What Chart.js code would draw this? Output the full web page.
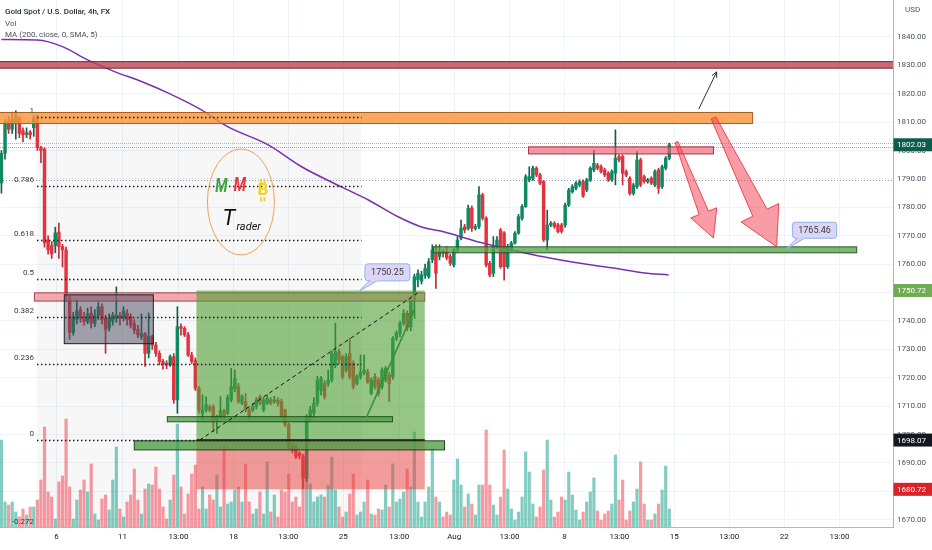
<!DOCTYPE html>
<html>
<head>
<meta charset="utf-8">
<title>Gold Spot / U.S. Dollar, 4h, FX</title>
<script src="https://cdn.jsdelivr.net/npm/chart.js@4.4.1/dist/chart.umd.min.js"></script>
<style>
  html, body { margin: 0; padding: 0; background: #ffffff; }
  canvas { display: block; }
</style>
</head>
<body>
<canvas id="goldChart" width="932" height="550"></canvas>
<script>
// --- 1. DATA (4h candles) ---
const opens = [
  1788.6,1799.0,1810.5,1807.5,1809.5,1811.5,1807.0,1805.7,1806.5,1808.0,
  1811.3,1801.0,1800.5,1768.5,1766.5,1766.5,1771.3,1766.2,1765.0,1748.5,
  1736.0,1740.5,1743.9,1741.5,1739.8,1742.7,1739.2,1742.0,1745.0,1741.0,
  1737.5,1740.0,1741.0,1742.0,1741.0,1742.7,1741.5,1739.0,1737.0,1734.5,
  1735.5,1728.6,1734.5,1731.5,1728.6,1725.7,1725.1,1724.5,1727.4,1712.2,
  1738.0,1737.4,1735.1,1728.0,1726.0,1716.3,1707.5,1708.7,1709.8,1709.8,
  1705.1,1706.3,1708.5,1707.5,1712.2,1716.0,1716.9,1711.0,1711.6,1708.7,
  1708.7,1709.8,1713.4,1708.7,1711.0,1712.2,1711.6,1712.2,1711.6,1708.7,
  1703.5,1696.0,1695.8,1693.5,1692.2,1684.6,1706.3,1707.5,1711.0,1715.5,
  1718.0,1718.0,1719.2,1724.5,1729.2,1727.4,1722.7,1728.6,1725.2,1718.0,
  1720.4,1721.8,1722.0,1714.5,1720.4,1719.2,1716.9,1719.2,1721.0,1720.4,
  1733.9,1735.5,1739.2,1742.7,1738.0,1747.0,
  1754.5,1754.0,1756.0,1755.6,1761.5,1763.8,1762.7,1764.4,1764.4,1762.7,
  1759.7,1765.0,1769.1,1773.2,1772.6,1779.7,1772.6,1773.2,1784.4,1776.2,
  1760.3,1756.8,1766.2,1772.0,1771.0,1759.1,1765.0,1767.4,1770.9,1776.2,
  1780.3,1789.7,1790.2,1793.8,1791.4,1789.1,1768.5,1773.8,1774.4,1773.8,
  1773.8,1773.8,1780.8,1785.5,1786.7,1787.9,1789.1,1786.1,1789.7,1793.2,
  1794.9,1794.3,1793.2,1792.0,1789.7,1792.0,1797.9,1797.9,1792.6,1790.2,
  1784.9,1787.3,1796.7,1790.8,1789.1,1790.2,1787.9,1793.2,1787.3,1793.8,
  1797.3
];
const highs = [
  1800.0,1811.0,1812.0,1813.5,1814.0,1812.0,1808.0,1808.0,1807.0,1812.5,
  1812.5,1801.5,1801.0,1770.0,1768.0,1773.0,1774.5,1767.0,1766.0,1749.0,
  1743.0,1747.4,1745.0,1743.0,1744.5,1745.0,1744.0,1746.5,1746.0,1742.0,
  1742.5,1743.0,1752.0,1743.0,1745.0,1744.0,1742.5,1740.5,1738.5,1742.5,
  1736.0,1742.8,1735.0,1732.5,1729.5,1726.5,1726.0,1728.0,1728.5,1745.0,
  1739.0,1738.0,1736.0,1729.0,1727.0,1717.0,1714.0,1713.4,1710.5,1710.5,
  1706.8,1713.4,1709.0,1714.0,1723.3,1722.7,1718.0,1714.0,1714.5,1709.5,
  1711.0,1713.0,1714.0,1713.0,1714.0,1713.0,1713.5,1713.0,1712.5,1709.0,
  1704.0,1697.0,1696.5,1694.0,1693.0,1707.0,1710.0,1713.0,1720.5,1720.5,
  1719.0,1722.7,1729.5,1739.2,1730.0,1728.0,1728.5,1733.9,1726.0,1721.0,
  1728.0,1728.0,1723.0,1720.0,1721.5,1720.0,1723.5,1724.0,1722.0,1734.5,
  1736.5,1740.0,1744.0,1743.5,1748.5,1756.5,
  1758.0,1757.5,1760.0,1762.0,1766.8,1766.8,1766.8,1765.0,1766.2,1763.5,
  1765.5,1769.7,1775.5,1774.0,1780.8,1780.5,1774.0,1787.3,1785.0,1776.7,
  1761.0,1769.7,1769.7,1772.6,1771.5,1767.0,1768.0,1771.5,1777.5,1781.0,
  1791.5,1794.3,1794.5,1794.3,1792.0,1789.5,1779.0,1775.0,1775.0,1774.4,
  1774.4,1781.5,1786.7,1788.0,1789.1,1789.7,1789.7,1790.2,1794.3,1800.2,
  1795.5,1795.0,1793.8,1792.6,1793.2,1807.3,1798.5,1798.5,1793.2,1790.8,
  1788.5,1799.6,1797.3,1791.4,1790.2,1790.8,1793.2,1793.8,1794.9,1797.9,
  1802.6
];
const lows = [
  1785.0,1797.0,1806.0,1806.0,1804.0,1804.5,1803.0,1804.5,1804.0,1805.0,
  1800.0,1795.7,1766.0,1763.5,1762.0,1764.0,1762.0,1759.0,1747.0,1733.5,
  1735.0,1739.0,1739.5,1738.5,1739.0,1737.5,1738.0,1740.5,1739.0,1728.6,
  1736.5,1738.5,1739.5,1738.5,1740.0,1738.5,1737.5,1735.5,1734.0,1733.5,
  1724.0,1727.0,1730.0,1727.5,1724.5,1723.0,1723.2,1724.0,1711.0,1707.5,
  1735.0,1734.5,1727.5,1725.0,1715.5,1707.5,1705.5,1708.0,1708.0,1701.0,
  1700.4,1705.5,1705.5,1707.0,1711.5,1715.0,1711.0,1710.5,1708.0,1705.5,
  1708.0,1709.0,1710.5,1708.0,1710.5,1710.5,1711.0,1710.0,1705.5,1702.8,
  1695.0,1693.5,1691.5,1691.5,1681.0,1683.5,1704.5,1706.0,1710.0,1714.0,
  1712.5,1717.0,1718.5,1723.5,1725.0,1719.5,1722.0,1719.5,1716.0,1717.5,
  1719.5,1721.0,1718.0,1714.0,1716.0,1713.5,1716.0,1718.5,1711.6,1719.5,
  1733.0,1734.5,1738.5,1736.5,1736.5,1743.0,
  1752.0,1753.0,1755.0,1755.0,1760.5,1751.5,1761.5,1762.5,1761.5,1759.5,
  1759.0,1764.0,1768.5,1771.0,1772.0,1771.5,1772.0,1772.5,1775.5,1759.0,
  1755.5,1755.6,1765.5,1758.5,1754.4,1758.5,1764.5,1767.0,1770.5,1775.5,
  1780.0,1789.0,1789.5,1790.8,1788.0,1768.0,1765.0,1773.2,1772.6,1771.0,
  1770.9,1773.0,1780.3,1785.0,1786.1,1787.3,1783.5,1785.5,1789.1,1792.6,
  1793.2,1792.0,1790.8,1789.1,1789.1,1787.9,1796.0,1787.9,1790.8,1784.3,
  1784.3,1786.7,1787.3,1788.5,1788.5,1788.0,1787.3,1784.9,1786.7,1793.2,
  1796.7
];
const closes = [
  1799.0,1809.7,1807.5,1811.0,1812.0,1806.0,1805.5,1806.2,1805.5,1811.5,
  1801.0,1800.0,1767.5,1765.0,1763.6,1771.0,1766.2,1765.0,1748.5,1736.0,
  1741.4,1743.5,1741.0,1739.8,1742.5,1739.2,1742.0,1745.0,1740.4,1737.0,
  1741.0,1742.2,1742.0,1741.0,1743.5,1740.4,1738.5,1736.8,1735.1,1735.5,
  1728.6,1734.5,1731.5,1728.6,1725.7,1724.8,1724.5,1727.4,1712.2,1738.0,
  1737.4,1735.1,1728.0,1725.7,1716.3,1708.7,1708.7,1710.5,1708.7,1705.1,
  1706.3,1708.5,1706.3,1713.0,1716.9,1719.8,1711.6,1713.4,1708.7,1706.3,
  1709.8,1712.2,1711.0,1712.2,1712.8,1711.0,1712.2,1711.0,1706.3,1703.5,
  1695.8,1694.5,1692.2,1692.5,1684.6,1706.3,1708.7,1711.0,1719.2,1719.8,
  1713.4,1719.2,1728.6,1729.2,1726.3,1720.4,1727.4,1720.4,1716.9,1720.4,
  1722.0,1722.7,1718.5,1719.2,1716.9,1714.5,1722.7,1723.3,1718.0,1733.9,
  1735.7,1739.2,1742.7,1737.5,1747.4,1755.6,
  1756.8,1756.2,1758.5,1760.9,1765.0,1756.8,1764.4,1763.8,1762.2,1760.3,
  1765.0,1768.5,1772.6,1772.0,1779.7,1772.6,1773.2,1784.4,1776.2,1759.7,
  1756.2,1766.2,1768.5,1759.1,1759.1,1766.2,1767.4,1770.9,1776.7,1780.3,
  1790.8,1790.8,1793.8,1791.4,1788.5,1768.5,1773.8,1774.4,1773.2,1771.5,
  1771.5,1780.8,1786.1,1787.3,1788.5,1789.1,1784.0,1789.7,1793.8,1795.5,
  1793.8,1792.6,1791.4,1789.7,1792.6,1797.3,1796.7,1792.0,1791.4,1784.9,
  1787.9,1796.7,1787.9,1789.1,1789.7,1788.5,1792.6,1786.7,1794.3,1797.3,
  1802.03
];
const volumes = [
  87,25,22,25,15,10,18,12,20,20,
  27,47,100,35,30,8,45,51,108,40,
  8,27,37,47,35,63,13,7,28,32,
  17,47,80,18,10,25,32,58,27,13,
  38,43,42,60,38,20,8,27,52,103,
  40,13,33,53,62,18,40,18,32,27,
  52,20,82,23,25,37,40,25,63,25,
  13,18,35,13,65,15,32,10,37,35,
  53,25,30,20,73,107,43,25,30,32,
  30,42,70,37,20,10,15,33,53,12,
  15,25,47,13,12,18,17,42,20,63,
  25,28,35,58,40,95,
  25,10,25,40,78,30,25,10,15,12,
  47,68,42,20,33,23,12,42,42,97,
  42,22,12,30,77,38,18,7,15,30,
  75,55,23,10,20,57,87,27,10,15,
  30,27,55,32,17,7,15,25,35,49,
  16,7,13,16,23,72,27,47,7,16,
  25,38,65,23,7,7,13,23,37,61,
  18
];

// MA (200, close) sampled at candle positions
const maIdx = [0, 10, 17, 24, 31.5, 39, 46.5, 55.7, 63, 74.3, 83.6, 94.7, 102.2, 110.6, 117, 123.4, 132.9, 142.1, 151.3, 160.7, 169.9, 179.1, 185.8];
const maVal = [1839.1, 1838.9, 1836.6, 1831.9, 1827.8, 1824.3, 1820.2, 1814.3, 1808.4, 1802.0, 1794.3, 1787.2, 1782.6, 1776.6, 1773.1, 1771.3, 1767.8, 1765.0, 1762.5, 1760.4, 1758.7, 1756.9, 1756.2];

// time axis
const timeTickIdx = [15.3, 33.7, 49.3, 64.6, 79.9, 95.2, 110.8, 126.1, 141.5, 156.8, 172.1, 187.4, 202.7, 218.0, 233.4];
const timeTickText = ['6', '11', '13:00', '18', '13:00', '25', '13:00', 'Aug', '13:00', '8', '13:00', '15', '13:00', '22', '13:00'];

// price axis
const priceTicks = [1670, 1680, 1690, 1700, 1710, 1720, 1730, 1740, 1750, 1760, 1770, 1780, 1790, 1800, 1810, 1820, 1830, 1840];

// fibonacci retracement and long position tool
const fibLevels = [1, 0.786, 0.618, 0.5, 0.382, 0.236, 0, -0.272];
const fibHigh = 1811.8;
const fibLow = 1698.07;
const entryPrice = 1698.07;
const targetPrice = 1750.72;
const stopPrice = 1680.72;
const lastPrice = 1802.03;

// --- 2. DRAWING OBJECTS (in candle index / price units) ---
const fibSpan = { from: 9.9, to: 100.3 };
const positionSpan = { from: 54.3, to: 117.9 };

const zonesUnder = [
  { from: -5, to: 260, top: 1831.3, bottom: 1829.0, fill: 'rgba(186,70,82,0.8)', line: '#7a2430' },
  { from: -5, to: 209.2, top: 1813.4, bottom: 1809.5, fill: 'rgba(247,150,60,0.82)', line: '#a35f1f' },
  { from: 9.2, to: 117.9, top: 1749.9, bottom: 1747.0, fill: 'rgba(241,126,134,0.65)', line: 'rgba(150,40,50,0.85)' },
  { from: 17.5, to: 42.3, top: 1749.2, bottom: 1732.0, fill: 'rgba(78,78,98,0.52)', line: '#20202a' },
  { from: 146.8, to: 198.3, top: 1801.3, bottom: 1798.8, fill: 'rgba(240,96,112,0.65)', line: 'rgba(160,36,52,0.9)' },
  { from: 120.3, to: 238.2, top: 1766.1, bottom: 1764.0, fill: 'rgba(86,164,76,0.78)', line: 'rgba(28,78,28,0.9)' }
];
const zonesOver = [
  { from: 46.2, to: 108.9, top: 1706.3, bottom: 1704.5, fill: 'rgba(76,158,66,0.75)', line: 'rgba(24,70,24,0.9)' },
  { from: 37.0, to: 123.4, top: 1697.8, bottom: 1694.6, fill: 'rgba(76,158,66,0.78)', line: 'rgba(24,60,24,0.95)' }
];
const priceLines = [
  { price: 1789.6, color: '#9598a1', dash: [1, 2] },
  { price: 1802.6, color: '#f48fb1', dash: [1, 1] },
  { price: 1801.4, color: '#b39ddb', dash: [1, 1] }
];
const fatArrows = [
  { x0: 188.0, p0: 1803.0, x1: 198.3, p1: 1769.2, w0: 1.5, w1: 5, wh: 14, hl: 27 },
  { x0: 198.3, p0: 1811.5, x1: 215.9, p1: 1766.1, w0: 2.5, w1: 8, wh: 21, hl: 38 }
];
const callouts = [
  { idx: 99.4, price: 1750.25, dx: 6.6, dy: -28, w: 45, h: 17 },
  { idx: 218.7, price: 1765.46, dx: 5.7, dy: -26.4, w: 44.3, h: 16 }
];
const axisBadges = [
  { price: lastPrice, bg: '#0c5e4b' },
  { price: targetPrice, bg: '#6fac54' },
  { price: entryPrice, bg: '#131722' },
  { price: stopPrice, bg: '#d9232b' }
];

// --- 3. HELPERS ---
const UP = '#0e8a62';
const DOWN = '#e5323f';
const UP_WICK = '#11604c';
const DOWN_WICK = '#c02c38';
const isUp = i => closes[i] >= opens[i];
const fibPrice = l => fibLow + l * (fibHigh - fibLow);
const FONT = 'Roboto, "Liberation Sans", Arial, sans-serif';

function clipArea(ctx, a) {
  ctx.beginPath();
  ctx.rect(a.left, a.top, a.right - a.left, a.bottom - a.top);
  ctx.clip();
}

function noPadding(s) {
  s.paddingTop = 0;
  s.paddingBottom = 0;
  s.paddingLeft = 0;
  s.paddingRight = 0;
}

function drawZone(ctx, x, y, z) {
  const xa = x.getPixelForValue(z.from), xb = x.getPixelForValue(z.to);
  const ya = y.getPixelForValue(z.top), yb = y.getPixelForValue(z.bottom);
  ctx.fillStyle = z.fill;
  ctx.fillRect(xa, ya, xb - xa, yb - ya);
  ctx.strokeStyle = z.line;
  ctx.lineWidth = 1;
  ctx.strokeRect(xa, ya, xb - xa, yb - ya);
}

function lineArrow(ctx, xa, ya, xb, yb, head) {
  const ang = Math.atan2(yb - ya, xb - xa);
  ctx.beginPath();
  ctx.moveTo(xa, ya);
  ctx.lineTo(xb, yb);
  ctx.moveTo(xb - head * Math.cos(ang - 0.45), yb - head * Math.sin(ang - 0.45));
  ctx.lineTo(xb, yb);
  ctx.lineTo(xb - head * Math.cos(ang + 0.45), yb - head * Math.sin(ang + 0.45));
  ctx.stroke();
}

function fatArrow(ctx, x0, y0, x1, y1, w0, w1, wh, hl) {
  const L = Math.hypot(x1 - x0, y1 - y0);
  const ux = (x1 - x0) / L, uy = (y1 - y0) / L;
  const nx = -uy, ny = ux;
  const bx = x1 - ux * hl, by = y1 - uy * hl;
  ctx.beginPath();
  ctx.moveTo(x0 + nx * w0, y0 + ny * w0);
  ctx.lineTo(bx + nx * w1, by + ny * w1);
  ctx.lineTo(bx + nx * wh, by + ny * wh);
  ctx.lineTo(x1, y1);
  ctx.lineTo(bx - nx * wh, by - ny * wh);
  ctx.lineTo(bx - nx * w1, by - ny * w1);
  ctx.lineTo(x0 - nx * w0, y0 - ny * w0);
  ctx.closePath();
  ctx.fill();
  ctx.stroke();
}

function roundRect(ctx, rx, ry, w, h, r) {
  ctx.beginPath();
  ctx.moveTo(rx + r, ry);
  ctx.lineTo(rx + w - r, ry);
  ctx.quadraticCurveTo(rx + w, ry, rx + w, ry + r);
  ctx.lineTo(rx + w, ry + h - r);
  ctx.quadraticCurveTo(rx + w, ry + h, rx + w - r, ry + h);
  ctx.lineTo(rx + r, ry + h);
  ctx.quadraticCurveTo(rx, ry + h, rx, ry + h - r);
  ctx.lineTo(rx, ry + r);
  ctx.quadraticCurveTo(rx, ry, rx + r, ry);
  ctx.closePath();
}

// --- 4. PLUGIN FOR THE HAND-DRAWN TOOLS ---
const drawingsPlugin = {
  id: 'drawings',
  beforeDatasetsDraw(chart) {
    const { ctx, chartArea: a, scales: { x, y } } = chart;
    ctx.save();
    clipArea(ctx, a);
    // fib background
    const fx0 = x.getPixelForValue(fibSpan.from), fx1 = x.getPixelForValue(fibSpan.to);
    const yTop = y.getPixelForValue(fibPrice(1)), yBot = y.getPixelForValue(fibPrice(-0.272));
    ctx.fillStyle = 'rgba(120,123,134,0.06)';
    ctx.fillRect(fx0, yTop, fx1 - fx0, yBot - yTop);
    // horizontal lines across the whole pane
    priceLines.forEach(l => {
      const py = Math.round(y.getPixelForValue(l.price)) + 0.5;
      ctx.strokeStyle = l.color;
      ctx.lineWidth = 1;
      ctx.setLineDash(l.dash);
      ctx.beginPath();
      ctx.moveTo(a.left, py);
      ctx.lineTo(a.right, py);
      ctx.stroke();
    });
    ctx.restore();
  },
  afterDatasetsDraw(chart) {
    const { ctx, chartArea: a, scales: { x, y } } = chart;
    ctx.save();
    clipArea(ctx, a);

    zonesUnder.forEach(z => drawZone(ctx, x, y, z));

    // long position tool
    const px0 = x.getPixelForValue(positionSpan.from), px1 = x.getPixelForValue(positionSpan.to);
    const yT = y.getPixelForValue(targetPrice), yE = y.getPixelForValue(entryPrice), yS = y.getPixelForValue(stopPrice);
    ctx.fillStyle = 'rgba(78,160,52,0.6)';
    ctx.fillRect(px0, yT, px1 - px0, yE - yT);
    ctx.fillStyle = 'rgba(232,66,66,0.52)';
    ctx.fillRect(px0, yE, px1 - px0, yS - yE);

    zonesOver.forEach(z => drawZone(ctx, x, y, z));

    ctx.strokeStyle = '#151515';
    ctx.lineWidth = 1.5;
    ctx.beginPath();
    ctx.moveTo(px0, yE);
    ctx.lineTo(px1, yE);
    ctx.stroke();
    ctx.lineWidth = 1;
    ctx.setLineDash([4, 3]);
    ctx.beginPath();
    ctx.moveTo(x.getPixelForValue(55.2), yE);
    ctx.lineTo(x.getPixelForValue(116.4), y.getPixelForValue(1750.25));
    ctx.stroke();
    ctx.setLineDash([]);

    // fib levels
    const fx0 = x.getPixelForValue(fibSpan.from), fx1 = x.getPixelForValue(fibSpan.to);
    ctx.font = '8px ' + FONT;
    ctx.textAlign = 'right';
    ctx.textBaseline = 'middle';
    fibLevels.forEach(l => {
      const py = Math.round(y.getPixelForValue(fibPrice(l))) + 0.5;
      ctx.strokeStyle = '#1e1e1e';
      ctx.lineWidth = 1.3;
      ctx.setLineDash([1.5, 2.5]);
      ctx.beginPath();
      ctx.moveTo(fx0, py);
      ctx.lineTo(fx1, py);
      ctx.stroke();
      ctx.fillStyle = '#3a3a3a';
      ctx.fillText(String(l), fx0 - 3, py - 7);
    });
    ctx.setLineDash([]);

    // thin arrows
    ctx.strokeStyle = '#3b8d3b';
    ctx.lineWidth = 1.6;
    lineArrow(ctx, x.getPixelForValue(101.7), y.getPixelForValue(1706.2), x.getPixelForValue(115.0), y.getPixelForValue(1743.9), 9);
    ctx.strokeStyle = '#2f2f2f';
    ctx.lineWidth = 1;
    lineArrow(ctx, x.getPixelForValue(194.2), y.getPixelForValue(1814.6), x.getPixelForValue(199.2), y.getPixelForValue(1827.7), 6);

    // big red arrows
    ctx.fillStyle = 'rgba(242,60,75,0.5)';
    ctx.strokeStyle = 'rgba(236,48,62,0.85)';
    ctx.lineWidth = 1;
    fatArrows.forEach(r => fatArrow(ctx,
      x.getPixelForValue(r.x0), y.getPixelForValue(r.p0),
      x.getPixelForValue(r.x1), y.getPixelForValue(r.p1),
      r.w0, r.w1, r.wh, r.hl));

    // price callouts
    callouts.forEach(c => {
      const ax = x.getPixelForValue(c.idx), ay = y.getPixelForValue(c.price);
      const bx = ax + c.dx, by = ay + c.dy;
      ctx.fillStyle = '#dcd6f4';
      ctx.strokeStyle = '#8cb4f0';
      ctx.lineWidth = 1;
      ctx.beginPath();
      ctx.moveTo(ax, ay);
      ctx.lineTo(bx + 5, by + c.h - 0.5);
      ctx.lineTo(bx + 13, by + c.h - 0.5);
      ctx.closePath();
      ctx.fill();
      ctx.stroke();
      roundRect(ctx, bx, by, c.w, c.h, 3);
      ctx.fill();
      ctx.stroke();
      ctx.fillStyle = '#dcd6f4';
      ctx.fillRect(bx + 5.5, by + c.h - 1.5, 7, 2);
      ctx.fillStyle = '#3a3a44';
      ctx.font = '9px ' + FONT;
      ctx.textAlign = 'center';
      ctx.textBaseline = 'middle';
      ctx.fillText(c.price.toFixed(2), bx + c.w / 2, by + c.h / 2 + 0.5);
    });

    // trader logo
    const cx = x.getPixelForValue(66.7), cy = y.getPixelForValue(1781.9);
    ctx.strokeStyle = '#f0a257';
    ctx.lineWidth = 1;
    ctx.beginPath();
    ctx.ellipse(cx, cy, 33.5, 53, 0, 0, Math.PI * 2);
    ctx.stroke();
    ctx.textAlign = 'center';
    ctx.textBaseline = 'middle';
    ctx.font = 'italic bold 20px ' + FONT;
    [['#3aa83a', -19.5, -14.5], ['#e4313a', -1, -16]].forEach(([col, ox, oy]) => {
      ctx.save();
      ctx.translate(cx + ox, cy + oy);
      ctx.scale(0.72, 1);
      ctx.fillStyle = col;
      ctx.fillText('M', 0, 0);
      ctx.restore();
    });
    ctx.fillStyle = '#f2d21b';
    ctx.font = 'bold 17px ' + FONT;
    ctx.fillText('B', cx + 22, cy - 11.5);
    ctx.strokeStyle = '#f2d21b';
    ctx.lineWidth = 1.8;
    ctx.beginPath();
    ctx.moveTo(cx + 20, cy - 23); ctx.lineTo(cx + 20, cy - 18);
    ctx.moveTo(cx + 23.5, cy - 23); ctx.lineTo(cx + 23.5, cy - 18);
    ctx.moveTo(cx + 20, cy - 5); ctx.lineTo(cx + 20, cy - 0.5);
    ctx.moveTo(cx + 23.5, cy - 5); ctx.lineTo(cx + 23.5, cy - 0.5);
    ctx.stroke();
    ctx.fillStyle = '#111111';
    ctx.font = 'italic 22px ' + FONT;
    ctx.fillText('T', cx - 12, cy + 18);
    ctx.font = 'italic 11px ' + FONT;
    ctx.textAlign = 'left';
    ctx.fillText('rader', cx - 4.5, cy + 25);

    ctx.restore();
  },
  afterDraw(chart) {
    const { ctx, chartArea: a, scales: { y } } = chart;
    ctx.save();
    ctx.textBaseline = 'middle';
    ctx.textAlign = 'left';
    // legend
    ctx.font = '500 8px ' + FONT;
    ctx.fillStyle = '#2a2e39';
    ctx.fillText('Gold Spot / U.S. Dollar, 4h, FX', 5, 12);
    ctx.font = '8px ' + FONT;
    ctx.fillStyle = '#50535e';
    ctx.fillText('Vol', 5, 23.5);
    ctx.fillText('MA (200, close, 0, SMA, 5)', 5, 35);
    // axis currency
    ctx.fillStyle = '#50535e';
    ctx.fillText('USD', a.right + 12, 10);
    // badges on the price axis
    ctx.font = '8px ' + FONT;
    axisBadges.forEach(b => {
      const py = y.getPixelForValue(b.price);
      ctx.fillStyle = b.bg;
      ctx.fillRect(a.right + 0.5, py - 6.5, 39, 13);
      ctx.fillStyle = '#ffffff';
      ctx.fillText(b.price.toFixed(2), a.right + 4, py + 0.5);
    });
    ctx.restore();
  }
};

// --- 5. CHART ---
Chart.defaults.font.family = FONT;
Chart.defaults.font.size = 8;
Chart.defaults.color = '#131722';

const candleIdx = closes.map((c, i) => i);

new Chart(document.getElementById('goldChart'), {
  type: 'bar',
  data: {
    datasets: [
      {
        type: 'line',
        label: 'MA (200, close, 0, SMA, 5)',
        data: maIdx.map((v, k) => ({ x: v, y: maVal[k] })),
        borderColor: '#7b2fb0',
        borderWidth: 1.5,
        pointRadius: 0,
        tension: 0.4,
        cubicInterpolationMode: 'monotone',
        yAxisID: 'y',
        order: 0
      },
      {
        label: 'body',
        data: candleIdx.map(i => ({ x: i, y: [opens[i], closes[i]] })),
        backgroundColor: c => isUp(c.dataIndex) ? UP : DOWN,
        barThickness: 2.8,
        minBarLength: 1,
        grouped: false,
        yAxisID: 'y',
        order: 1
      },
      {
        label: 'wick',
        data: candleIdx.map(i => ({ x: i, y: [lows[i], highs[i]] })),
        backgroundColor: c => isUp(c.dataIndex) ? UP_WICK : DOWN_WICK,
        barThickness: 1,
        grouped: false,
        yAxisID: 'y',
        order: 2
      },
      {
        label: 'Vol',
        data: candleIdx.map(i => ({ x: i, y: volumes[i] })),
        backgroundColor: c => isUp(c.dataIndex) ? 'rgba(8,153,129,0.5)' : 'rgba(242,54,69,0.5)',
        barThickness: 2.5,
        grouped: false,
        yAxisID: 'yVol',
        order: 5
      }
    ]
  },
  options: {
    responsive: false,
    animation: false,
    layout: { padding: 0 },
    plugins: { legend: { display: false }, tooltip: { enabled: false } },
    scales: {
      x: {
        type: 'linear',
        min: -0.4,
        max: 248.3,
        offset: false,
        grid: { color: '#f0f3fa', drawTicks: false, offset: false },
        border: { color: '#b2b5be' },
        ticks: {
          color: '#131722',
          padding: 5,
          maxRotation: 0,
          autoSkip: false,
          callback: (v, i) => timeTickText[i] ?? ''
        },
        afterBuildTicks: s => { s.ticks = timeTickIdx.map(v => ({ value: v })); },
        afterFit: s => { s.height = 23; noPadding(s); }
      },
      y: {
        type: 'linear',
        position: 'right',
        min: 1667.46,
        max: 1853.0,
        beginAtZero: false,
        grid: { color: '#f0f3fa', drawTicks: false },
        border: { color: '#b2b5be' },
        ticks: {
          color: '#50535e',
          padding: 4,
          callback: v => Number(v).toFixed(2)
        },
        afterBuildTicks: s => { s.ticks = priceTicks.map(v => ({ value: v })); },
        afterFit: s => { s.width = 39; noPadding(s); }
      },
      yVol: {
        type: 'linear',
        display: false,
        min: 0,
        max: 527,
        grid: { display: false }
      }
    }
  },
  plugins: [drawingsPlugin]
});
</script>
</body>
</html>
